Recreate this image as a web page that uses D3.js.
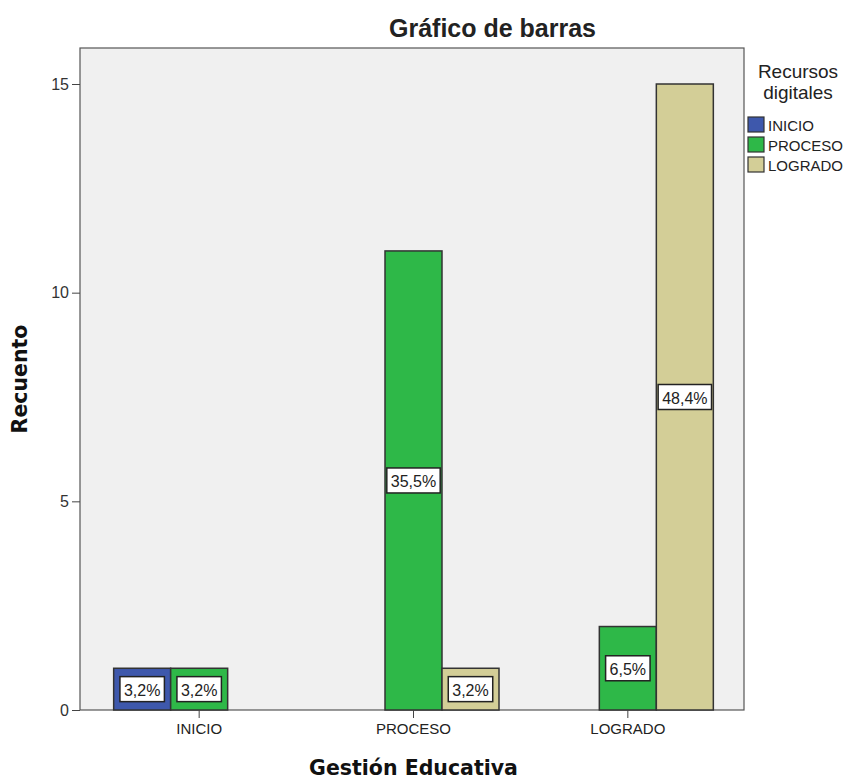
<!DOCTYPE html>
<html>
<head>
<meta charset="utf-8">
<script src="https://cdn.jsdelivr.net/npm/d3@7"></script>
<style>
  body { margin: 0; background: #fff; }
  text { font-family: Arial, "Liberation Sans", sans-serif; }
</style>
</head>
<body>
<div id="chart"></div>
<script>
const categories = ["INICIO", "PROCESO", "LOGRADO"];
const series = ["INICIO", "PROCESO", "LOGRADO"];
// counts per category (Gestión Educativa) for each series (Recursos digitales)
const inicioCounts = [1, 0, 0];
const procesoCounts = [1, 11, 2];
const logradoCounts = [0, 1, 15];
const inicioPct = ["3,2%", "", ""];
const procesoPct = ["3,2%", "35,5%", "6,5%"];
const logradoPct = ["", "3,2%", "48,4%"];
const yTicks = [0, 5, 10, 15];

const colors = { INICIO: "#3E58AC", PROCESO: "#2EB848", LOGRADO: "#D3CE97" };

const w = 857;
const h = 781;
const plot = { left: 80, right: 744, top: 48, bottom: 710 };

const rows = [];
const countsBySeries = [inicioCounts, procesoCounts, logradoCounts];
const pctBySeries = [inicioPct, procesoPct, logradoPct];
categories.forEach((c, i) => {
  series.forEach((s, j) => {
    if (countsBySeries[j][i] > 0) {
      rows.push({ cat: c, ser: s, value: countsBySeries[j][i], pct: pctBySeries[j][i] });
    }
  });
});

const svg = d3
  .select("#chart")
  .append("svg")
  .attr("width", w)
  .attr("height", h);

svg
  .append("rect")
  .attr("x", plot.left)
  .attr("y", plot.top)
  .attr("width", plot.right - plot.left)
  .attr("height", plot.bottom - plot.top)
  .style("fill", "#F0F0F0")
  .style("stroke", "#555")
  .style("stroke-width", 1.2);

const xScale = d3
  .scaleBand()
  .domain(categories)
  .range([92, 735])
  .padding(0);
const inner = d3
  .scaleBand()
  .domain(series)
  .range([xScale.bandwidth() / 2 - 85.5, xScale.bandwidth() / 2 + 85.5]);
const yScale = d3
  .scaleLinear()
  .domain([0, 15])
  .range([plot.bottom, 84]);

const bars = svg
  .selectAll(".bar")
  .data(rows)
  .enter()
  .append("g")
  .attr("class", "bar");

bars
  .append("rect")
  .attr("x", (d) => xScale(d.cat) + inner(d.ser))
  .attr("y", (d) => yScale(d.value))
  .attr("width", inner.bandwidth())
  .attr("height", (d) => yScale(0) - yScale(d.value))
  .style("fill", (d) => colors[d.ser])
  .style("stroke", "#333")
  .style("stroke-width", 1.5);

bars.each(function (d) {
  const g = d3.select(this);
  const cx = xScale(d.cat) + inner(d.ser) + inner.bandwidth() / 2;
  const cy = yScale(d.value / 2);
  const t = g
    .append("text")
    .attr("x", cx)
    .attr("y", cy + 1)
    .attr("text-anchor", "middle")
    .attr("dominant-baseline", "central")
    .style("font-size", "16px")
    .style("fill", "#222")
    .text(d.pct);
  const bw = Math.min(t.node().getComputedTextLength() + 8, inner.bandwidth());
  g.insert("rect", "text")
    .attr("x", cx - bw / 2)
    .attr("y", cy - 12.5)
    .attr("width", bw)
    .attr("height", 25)
    .style("fill", "#fff")
    .style("stroke", "#222")
    .style("stroke-width", 1.5);
});

const yAxis = d3.axisLeft(yScale).tickValues(yTicks).tickSize(8).tickPadding(3);
svg
  .append("g")
  .attr("transform", `translate(${plot.left},0)`)
  .call(yAxis)
  .call((g) => g.select(".domain").remove())
  .call((g) => g.selectAll("line").style("stroke", "#444"))
  .call((g) => g.selectAll("text").style("font-size", "16px").style("fill", "#333"));

const xAxis = d3.axisBottom(xScale).tickSize(8).tickPadding(5);
svg
  .append("g")
  .attr("transform", `translate(0,${plot.bottom})`)
  .call(xAxis)
  .call((g) => g.select(".domain").remove())
  .call((g) => g.selectAll("line").style("stroke", "#444"))
  .call((g) => g.selectAll("text").style("font-size", "15px").style("fill", "#222"));

svg
  .append("text")
  .attr("x", 492.5)
  .attr("y", 37)
  .attr("text-anchor", "middle")
  .style("font-size", "25px")
  .style("font-weight", "bold")
  .style("fill", "#222")
  .text("Gráfico de barras");

svg
  .append("text")
  .attr("x", 413.5)
  .attr("y", 775)
  .attr("text-anchor", "middle")
  .style("font-family", "'DejaVu Sans', sans-serif")
  .style("font-size", "20.5px")
  .style("font-weight", "bold")
  .style("fill", "#111")
  .text("Gestión Educativa");

svg
  .append("text")
  .attr("transform", "translate(27,379) rotate(-90)")
  .attr("text-anchor", "middle")
  .style("font-family", "'DejaVu Sans', sans-serif")
  .style("font-size", "20.5px")
  .style("font-weight", "bold")
  .style("fill", "#111")
  .text("Recuento");

// legend
const legend = svg.append("g").attr("transform", "translate(748,0)");
legend
  .selectAll(".lt")
  .data(["Recursos", "digitales"])
  .enter()
  .append("text")
  .attr("x", 50)
  .attr("y", (d, i) => 78 + i * 21)
  .attr("text-anchor", "middle")
  .style("font-size", "19px")
  .style("fill", "#222")
  .text((d) => d);

const items = legend
  .selectAll(".li")
  .data(series)
  .enter()
  .append("g")
  .attr("transform", (d, i) => `translate(0,${117 + i * 20})`);
items
  .append("rect")
  .attr("width", 16)
  .attr("height", 15)
  .style("fill", (d) => colors[d])
  .style("stroke", "#333")
  .style("stroke-width", 1.2);
items
  .append("text")
  .attr("x", 20)
  .attr("y", 8)
  .attr("dominant-baseline", "central")
  .style("font-size", "15px")
  .style("fill", "#222")
  .text((d) => d);
</script>
</body>
</html>
